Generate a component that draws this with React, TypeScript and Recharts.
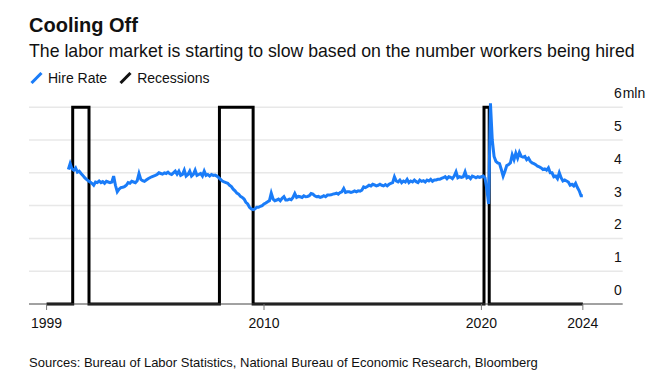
import React from 'react';
import { LineChart, Line, XAxis, YAxis, ReferenceLine } from 'recharts';

// Monthly hire rate, Dec 2000 through Aug 2024
const hire2000 = [4.1];
const hire2001 = [4.28, 4.12, 4.08, 4.15, 4.02, 4.05, 3.98, 3.92, 3.85, 3.8, 3.76, 3.72];
const hire2002 = [3.68, 3.62, 3.72, 3.7, 3.75, 3.7, 3.73, 3.68, 3.74, 3.72, 3.7, 3.72];
const hire2003 = [3.9, 3.62, 3.42, 3.5, 3.55, 3.56, 3.58, 3.62, 3.7, 3.68, 3.74, 3.72];
const hire2004 = [3.7, 3.76, 3.98, 3.8, 3.76, 3.74, 3.78, 3.82, 3.85, 3.88, 3.9, 3.92];
const hire2005 = [3.95, 4.0, 3.98, 3.96, 4.0, 3.98, 4.02, 3.97, 3.95, 4.0, 4.05, 3.96];
const hire2006 = [4.05, 3.92, 3.95, 4.08, 3.9, 3.95, 4.05, 3.9, 3.95, 4.08, 3.92, 3.95];
const hire2007 = [3.98, 3.9, 4.05, 3.92, 3.95, 3.9, 3.95, 3.92, 3.93, 3.9, 3.85, 3.8];
const hire2008 = [3.75, 3.72, 3.7, 3.68, 3.62, 3.58, 3.5, 3.45, 3.38, 3.35, 3.28, 3.25];
const hire2009 = [3.2, 3.1, 3.05, 2.95, 2.9, 2.88, 2.9, 2.95, 2.95, 2.98, 3.0, 3.05];
const hire2010 = [3.08, 3.12, 3.15, 3.38, 3.2, 3.15, 3.17, 3.2, 3.15, 3.22, 3.27, 3.17];
const hire2011 = [3.17, 3.2, 3.18, 3.25, 3.37, 3.25, 3.28, 3.27, 3.25, 3.3, 3.27, 3.28];
const hire2012 = [3.3, 3.37, 3.35, 3.3, 3.27, 3.28, 3.25, 3.27, 3.3, 3.27, 3.32, 3.32];
const hire2013 = [3.33, 3.35, 3.36, 3.38, 3.35, 3.4, 3.42, 3.52, 3.4, 3.42, 3.42, 3.4];
const hire2014 = [3.42, 3.45, 3.42, 3.45, 3.44, 3.47, 3.57, 3.55, 3.58, 3.62, 3.6, 3.65];
const hire2015 = [3.63, 3.6, 3.62, 3.65, 3.62, 3.6, 3.64, 3.6, 3.65, 3.68, 3.7, 3.88];
const hire2016 = [3.75, 3.72, 3.78, 3.7, 3.75, 3.72, 3.8, 3.7, 3.75, 3.72, 3.78, 3.73];
const hire2017 = [3.7, 3.78, 3.74, 3.76, 3.72, 3.78, 3.75, 3.8, 3.74, 3.78, 3.78, 3.8];
const hire2018 = [3.8, 3.83, 3.85, 3.88, 3.82, 3.88, 3.86, 3.82, 3.9, 4.03, 3.85, 3.88];
const hire2019 = [3.86, 3.88, 4.03, 3.85, 3.88, 3.82, 3.9, 3.88, 3.85, 3.88, 3.86, 3.88];
const hire2020 = [3.9, 3.84, 3.5, 3.05, 6.12, 5.0, 4.5, 4.35, 4.3, 4.28, 4.1, 3.9];
const hire2021 = [4.05, 4.22, 4.25, 4.3, 4.55, 4.4, 4.6, 4.45, 4.62, 4.5, 4.48, 4.5];
const hire2022 = [4.4, 4.45, 4.35, 4.3, 4.28, 4.25, 4.2, 4.18, 4.15, 4.1, 4.12, 4.08];
const hire2023 = [4.15, 4.0, 4.0, 3.88, 3.9, 3.82, 4.0, 3.85, 3.75, 3.78, 3.75, 3.72];
const hire2024 = [3.62, 3.65, 3.6, 3.68, 3.55, 3.45, 3.3, 3.3];

// NBER recessions as [start, end] in decimal years
const recessions = [
  [2001.2, 2001.95],
  [2007.95, 2009.5],
  [2020.12, 2020.36],
];
const recessionLevel = 6;
const seriesStart = 1999.999;
const seriesEnd = 2024.667;

const xTicks = [seriesStart, 2010, 2020, seriesEnd];
const yTicks = [0, 1, 2, 3, 4, 5, 6];

const hireYears: [number, number[]][] = [
  [2000, hire2000], [2001, hire2001], [2002, hire2002], [2003, hire2003],
  [2004, hire2004], [2005, hire2005], [2006, hire2006], [2007, hire2007],
  [2008, hire2008], [2009, hire2009], [2010, hire2010], [2011, hire2011],
  [2012, hire2012], [2013, hire2013], [2014, hire2014], [2015, hire2015],
  [2016, hire2016], [2017, hire2017], [2018, hire2018], [2019, hire2019],
  [2020, hire2020], [2021, hire2021], [2022, hire2022], [2023, hire2023],
  [2024, hire2024],
];

// month values are plotted at month end; 2000 holds only December
const hireData = hireYears.flatMap(([year, vals]) => {
  const first = vals.length === 1 ? 12 : 1;
  return vals.map((v, i) => ({ t: year + (first + i) / 12, v }));
});

const recessionData = [
  { t: seriesStart, v: 0 },
  ...recessions.flatMap(([s, e]) => [
    { t: s, v: 0 },
    { t: s, v: recessionLevel },
    { t: e, v: recessionLevel },
    { t: e, v: 0 },
  ]),
  { t: seriesEnd, v: 0 },
];

const FONT = '"Liberation Sans", Arial, Helvetica, sans-serif';
const BLUE = '#1a7cf8';

const YTick = (props: any) => {
  const { x, y, payload } = props;
  const isTop = payload.value === yTicks[yTicks.length - 1];
  return (
    <g>
      <text x={x - 1} y={y - 9} textAnchor="end" fontSize={14} fontFamily={FONT} fill="#111">
        {payload.value}
      </text>
      {isTop && (
        <text x={x} y={y - 9} textAnchor="start" fontSize={14} fontFamily={FONT} fill="#111">
          mln
        </text>
      )}
    </g>
  );
};

const XTick = (props: any) => {
  const { x, y, payload } = props;
  return (
    <text x={x} y={y + 18} textAnchor="middle" fontSize={14} fontFamily={FONT} fill="#111">
      {Math.floor(payload.value)}
    </text>
  );
};

const Slash = ({ color }: { color: string }) => (
  <svg width={13} height={12} style={{ display: 'block' }}>
    <line x1={1.5} y1={11} x2={11.5} y2={1} stroke={color} strokeWidth={3} />
  </svg>
);

export default function App() {
  return (
    <div style={{ position: 'absolute', left: 0, top: 0, width: 665, height: 391, background: '#fff', fontFamily: FONT, color: '#111' }}>
      <div style={{ position: 'absolute', left: 29, top: 15.4, fontSize: 20, lineHeight: '20px', fontWeight: 700 }}>
        Cooling Off
      </div>
      <div style={{ position: 'absolute', left: 29, top: 43, fontSize: 17.7, lineHeight: '17.7px', whiteSpace: 'nowrap' }}>
        The labor market is starting to slow based on the number workers being hired
      </div>
      <div style={{ position: 'absolute', left: 30, top: 71, display: 'flex', alignItems: 'center', fontSize: 14, lineHeight: '14px', whiteSpace: 'nowrap' }}>
        <Slash color={BLUE} />
        <span style={{ marginLeft: 5 }}>Hire Rate</span>
        <span style={{ marginLeft: 12 }}><Slash color="#111" /></span>
        <span style={{ marginLeft: 5 }}>Recessions</span>
      </div>

      <div style={{ position: 'absolute', left: 0, top: 0 }}>
        <LineChart width={665} height={391} margin={{ top: 102.3, right: 41.3, bottom: 67, left: 29 }}>
          <XAxis
            dataKey="t"
            type="number"
            domain={[1999.19, 2026.5]}
            ticks={xTicks}
            allowDataOverflow
            height={20}
            tick={<XTick />}
            tickSize={6}
            tickMargin={0}
            tickLine={{ stroke: '#777' }}
            axisLine={{ stroke: '#444', strokeWidth: 1 }}
          />
          <YAxis
            orientation="right"
            domain={[0, 6.15]}
            ticks={yTicks}
            width={1}
            axisLine={false}
            tickLine={false}
            tickSize={0}
            tickMargin={0}
            tick={<YTick />}
          />
          {yTicks.slice(1).map((v) => (
            <ReferenceLine key={v} y={v} stroke="#e8e8e8" strokeWidth={1.5} />
          ))}
          <Line data={recessionData} dataKey="v" type="linear" stroke="#000" strokeWidth={3} dot={false} isAnimationActive={false} />
          <Line data={hireData} dataKey="v" type="linear" stroke={BLUE} strokeWidth={3} dot={false} isAnimationActive={false} />
        </LineChart>
      </div>

      <div style={{ position: 'absolute', left: 29, top: 355.5, fontSize: 13, lineHeight: '13px', whiteSpace: 'nowrap' }}>
        Sources: Bureau of Labor Statistics, National Bureau of Economic Research, Bloomberg
      </div>
    </div>
  );
}
